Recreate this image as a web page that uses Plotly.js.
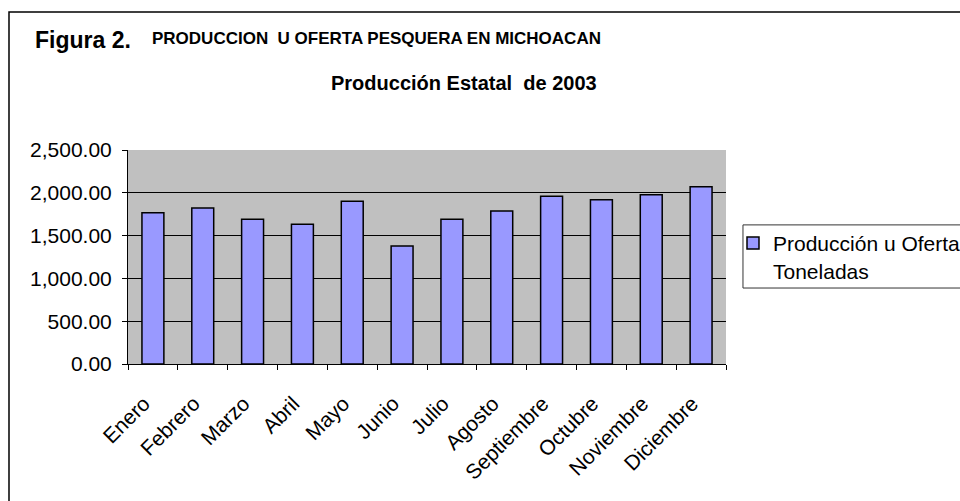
<!DOCTYPE html>
<html>
<head>
<meta charset="utf-8">
<script src="https://cdn.plot.ly/plotly-3.0.1.min.js"></script>
<style>html,body{margin:0;padding:0;background:#fff;}#chart{width:960px;height:501px;}</style>
</head>
<body>
<div id="chart"></div>
<script>
const months = ["Enero","Febrero","Marzo","Abril","Mayo","Junio","Julio","Agosto","Septiembre","Octubre","Noviembre","Diciembre"];
const production = [1767, 1822, 1690, 1632, 1900, 1378, 1690, 1787, 1959, 1920, 1978, 2071];
const seriesName = "Producción u Oferta<br>Toneladas";
const figureLabel = "Figura 2.";
const titleLine1 = "PRODUCCION  U OFERTA PESQUERA EN MICHOACAN";
const titleLine2 = "Producción Estatal  de 2003";

const FONT = "Liberation Sans, Arial, sans-serif";

const trace = {
  type: "bar",
  x: months,
  y: production,
  name: seriesName,
  showlegend: true,
  marker: {color: "#9999FF", line: {color: "#000000", width: 1.5}}
};

const layout = {
  width: 960, height: 501,
  margin: {l: 128, r: 234, t: 150, b: 137, autoexpand: false},
  paper_bgcolor: "#ffffff",
  plot_bgcolor: "#C0C0C0",
  font: {family: FONT, color: "#000000", size: 21},
  bargap: 0.56,
  showlegend: true,
  xaxis: {
    type: "category",
    tickangle: -45,
    ticks: "outside", ticklen: 5, tickcolor: "#000", tickwidth: 1,
    tickson: "boundaries",
    ticklabelstandoff: 18,
    ticklabelshift: -9,
    showline: true, linecolor: "#000", linewidth: 1,
    showgrid: false, zeroline: false,
    tickfont: {family: FONT, size: 21, color: "#000"}
  },
  yaxis: {
    range: [0, 2500], dtick: 500, tick0: 0,
    tickformat: ",.2f",
    ticks: "outside", ticklen: 5, tickcolor: "#000", tickwidth: 1,
    ticklabelstandoff: 6,
    showline: true, linecolor: "#000", linewidth: 1,
    showgrid: true, gridcolor: "#000", gridwidth: 1,
    zeroline: false,
    tickfont: {family: FONT, size: 21, color: "#000"}
  },
  legend: {
    x: 1.0117, xanchor: "left", y: 0.659, yanchor: "top",
    bgcolor: "rgba(0,0,0,0)", borderwidth: 0,
    font: {family: FONT, size: 21, color: "#000"},
    itemwidth: 30, valign: "top"
  },
  shapes: [
    {type: "rect", xref: "paper", yref: "paper", x0: -0.199, x1: 2, y0: -2, y1: 1.645,
     line: {color: "#000", width: 1.5}, fillcolor: "rgba(0,0,0,0)", layer: "below"},
    {type: "rect", xref: "paper", yref: "paper", x0: 1.0284, x1: 2, y0: 0.355, y1: 0.650,
     line: {color: "#333", width: 1}, fillcolor: "#ffffff", layer: "below"}
  ],
  annotations: [
    {text: "<b>" + figureLabel + "</b>", xref: "paper", yref: "paper", x: -0.159, y: 1.515,
     xanchor: "left", yanchor: "middle", showarrow: false, font: {family: FONT, size: 23, color: "#000"}},
    {text: "<b>" + titleLine1 + "</b>", xref: "paper", yref: "paper", x: 0.0368, y: 1.521,
     xanchor: "left", yanchor: "middle", showarrow: false, font: {family: FONT, size: 17, color: "#000"}},
    {text: "<b>" + titleLine2 + "</b>", xref: "paper", yref: "paper", x: 0.5627, y: 1.315,
     xanchor: "center", yanchor: "middle", showarrow: false, font: {family: FONT, size: 20, color: "#000"}}
  ]
};

Plotly.newPlot("chart", [trace], layout, {staticPlot: true, displayModeBar: false});
</script>
</body>
</html>
